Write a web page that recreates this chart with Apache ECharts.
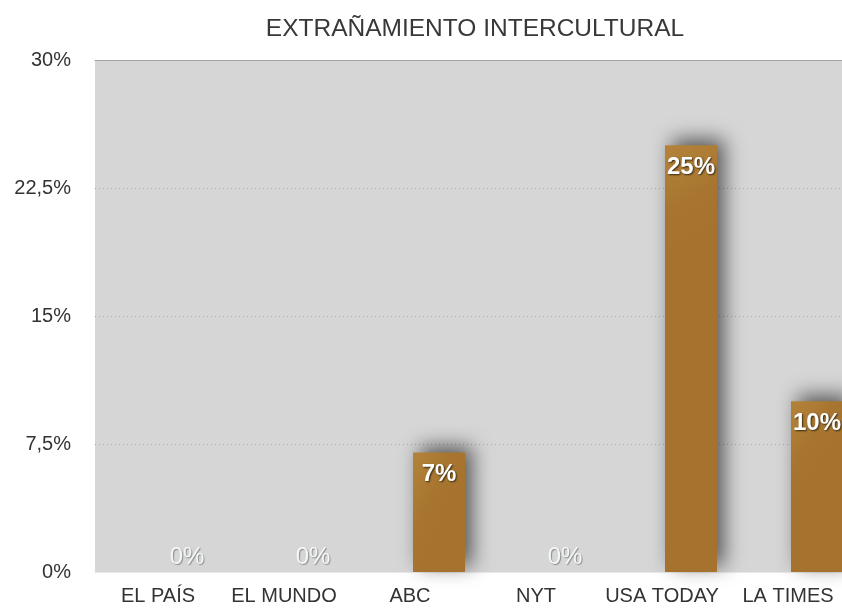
<!DOCTYPE html>
<html><head><meta charset="utf-8">
<script src="https://cdn.jsdelivr.net/npm/echarts@6/dist/echarts.min.js"></script>
<style>html,body{margin:0;padding:0;background:#fff;overflow:hidden;width:842px;height:610px}#c{width:851px;height:610px}</style>
</head><body><div id="c"></div>
<script>
const titleText = 'EXTRAÑAMIENTO INTERCULTURAL';
const categories = ['EL PAÍS', 'EL MUNDO', 'ABC', 'NYT', 'USA TODAY', 'LA TIMES'];
const values = [0, 0, 7, 0, 25, 10];
const yTickLabels = {0: '0%', 7.5: '7,5%', 15: '15%', 22.5: '22,5%', 30: '30%'};

const chart = echarts.init(document.getElementById('c'), null, {renderer: 'canvas'});
const font = 'Liberation Sans, Arial, Helvetica, sans-serif';

const barData = values.map(v => ({
  value: v,
  label: v === 0 ? {position: 'top', distance: 3, color: '#f4f7f7', fontWeight: 'normal',
                    textShadowColor: 'rgba(80,80,80,0.55)', textShadowBlur: 1, textShadowOffsetY: 1}
                 : {}
}));

chart.setOption({
  animation: false,
  title: {
    text: titleText, left: 470, top: 12, textAlign: 'center',
    textStyle: {fontFamily: font, fontSize: 24.5, fontWeight: 'normal', color: '#383838'}
  },
  grid: {left: 95, right: 0, top: 60, bottom: 38, show: true, backgroundColor: '#d6d6d6', borderWidth: 0},
  xAxis: [{
    type: 'category', data: categories,
    axisLine: {show: true, lineStyle: {color: '#e8e8e8', width: 1}}, axisTick: {show: false},
    axisLabel: {fontFamily: font, fontSize: 20, color: '#333', margin: 14, interval: 0}
  }, {
    type: 'category', data: categories, position: 'top',
    axisLine: {show: true, lineStyle: {color: '#a4a4a4', width: 1}},
    axisTick: {show: false}, axisLabel: {show: false}
  }],
  yAxis: {
    type: 'value', min: 0, max: 30, interval: 7.5,
    axisLine: {show: false}, axisTick: {show: false},
    axisLabel: {fontFamily: font, fontSize: 20, color: '#333', margin: 24,
      formatter: v => yTickLabels[v] !== undefined ? yTickLabels[v] : ''},
    splitLine: {show: true, lineStyle: {color: '#a8a8a8', type: [1, 3], width: 1}}
  },
  series: [{
    type: 'bar', data: values.map(() => null), barWidth: 58, barGap: '0%'
  }, {
    type: 'bar', data: barData, barWidth: 52, barGap: '0%',
    itemStyle: {
      color: new echarts.graphic.LinearGradient(0, 0, 1, 0.2, [
        {offset: 0, color: '#b4833b'}, {offset: 0.6, color: '#a7752f'}, {offset: 1, color: '#a5732e'}
      ]),
      shadowColor: 'rgba(0,0,0,0.6)', shadowBlur: 20, shadowOffsetX: 7, shadowOffsetY: -6
    },
    label: {
      show: true, position: 'insideTop', distance: 10,
      formatter: p => p.value + '%',
      fontFamily: font, fontSize: 24, fontWeight: 'bold', color: '#fff',
      textShadowColor: 'rgba(40,30,10,0.9)', textShadowBlur: 2, textShadowOffsetX: 1, textShadowOffsetY: 1
    }
  }]
});
</script></body></html>
